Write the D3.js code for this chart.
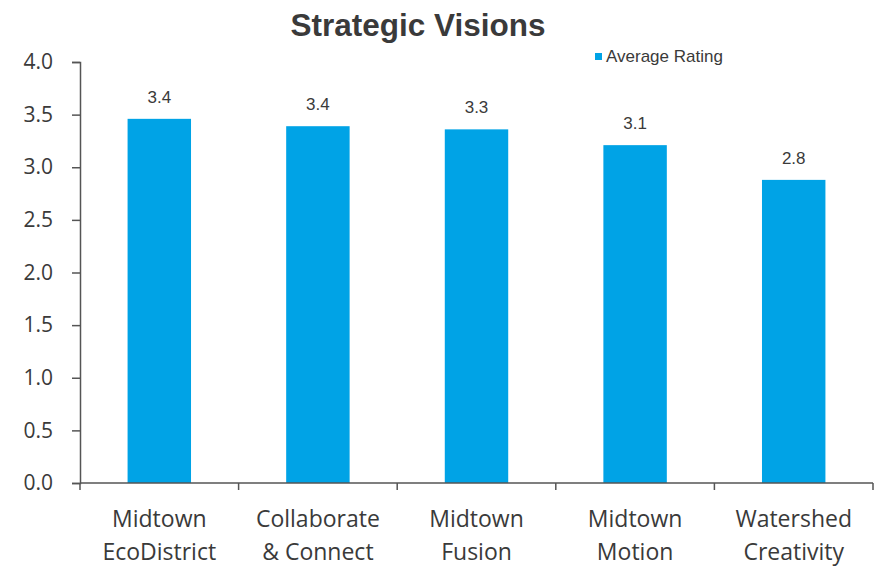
<!DOCTYPE html>
<html><head><meta charset="utf-8">
<script src="https://cdn.jsdelivr.net/npm/d3@7"></script>
<style>body{margin:0;background:#fff;} svg{display:block;}</style>
</head><body>
<script>
const categories = [["Midtown","EcoDistrict"],["Collaborate","& Connect"],["Midtown","Fusion"],["Midtown","Motion"],["Watershed","Creativity"]];
const values = [3.46, 3.39, 3.36, 3.21, 2.88];
const valueLabels = ["3.4","3.4","3.3","3.1","2.8"];
const yTicks = [0,0.5,1,1.5,2,2.5,3,3.5,4];
const title = "Strategic Visions";
const seriesName = "Average Rating";

const W=882,H=568;
const m={left:80,right:9,top:62,bottom:85};
const svg=d3.select("body").append("svg").attr("width",W).attr("height",H);
const x=d3.scaleBand().domain(d3.range(categories.length)).range([m.left,W-m.right]).paddingInner(0.6).paddingOuter(0.3);
const y=d3.scaleLinear().domain([0,4]).range([H-m.bottom,m.top]);
const color="#00a3e6", txt="#3a3a3a";

svg.append("text").attr("x",418).attr("y",36).attr("text-anchor","middle")
 .attr("font-family","Liberation Sans, Arial").attr("font-weight","bold").attr("font-size",31.5).attr("fill",txt).text(title);

// legend
svg.append("rect").attr("x",595).attr("y",53).attr("width",7).attr("height",7).attr("fill",color);
svg.append("text").attr("x",606).attr("y",62).attr("font-family","Liberation Sans, Arial").attr("font-size",17).attr("fill",txt).text(seriesName);

// bars
svg.selectAll("rect.bar").data(values).join("rect").attr("class","bar")
 .attr("x",(d,i)=>x(i)).attr("width",x.bandwidth()).attr("y",d=>y(d)).attr("height",d=>y(0)-y(d)).attr("fill",color);
svg.selectAll("text.val").data(values).join("text").attr("class","val")
 .attr("x",(d,i)=>x(i)+x.bandwidth()/2).attr("y",d=>y(d)-16).attr("text-anchor","middle")
 .attr("font-family","Liberation Sans, Arial").attr("font-size",17).attr("fill",txt).text((d,i)=>valueLabels[i]);

// y axis
const ya=svg.append("g").attr("transform",`translate(${m.left},0)`)
 .call(d3.axisLeft(y).tickValues(yTicks).tickFormat(d3.format(".1f")).tickSize(8).tickPadding(19));
ya.select(".domain").attr("stroke","#555").attr("stroke-width",1.5);
ya.selectAll(".tick line").attr("stroke","#555").attr("stroke-width",1.5);
ya.selectAll(".tick text").attr("font-family","Open Sans, sans-serif").attr("font-size",21).attr("fill",txt);

// x axis
const xa=svg.append("g").attr("transform",`translate(0,${y(0)})`);
xa.append("line").attr("x1",m.left).attr("x2",W-m.right).attr("stroke","#555").attr("stroke-width",1.5);
const bounds=d3.range(categories.length+1).map(i=>m.left+i*(W-m.right-m.left)/categories.length);
xa.selectAll("line.t").data(bounds).join("line").attr("class","t").attr("x1",d=>d).attr("x2",d=>d).attr("y1",0).attr("y2",7).attr("stroke","#555").attr("stroke-width",1.5);
categories.forEach((c,i)=>{
  const t=xa.append("text").attr("x",x(i)+x.bandwidth()/2).attr("text-anchor","middle")
   .attr("font-family","Open Sans, sans-serif").attr("font-size",23).attr("fill",txt);
  t.append("tspan").attr("x",x(i)+x.bandwidth()/2).attr("y",44).text(c[0]);
  t.append("tspan").attr("x",x(i)+x.bandwidth()/2).attr("y",77).text(c[1]);
});
</script>
</body></html>
